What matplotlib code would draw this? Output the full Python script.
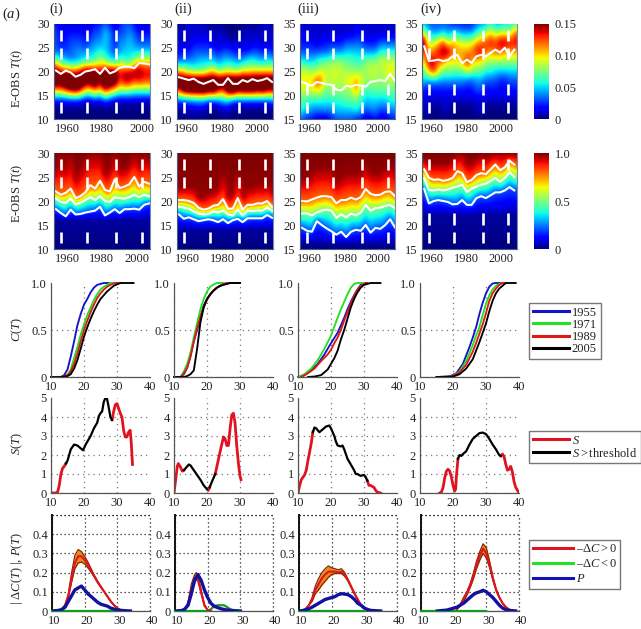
import numpy as np
import matplotlib
matplotlib.use('Agg')
import matplotlib.pyplot as plt
from matplotlib.lines import Line2D
from matplotlib.transforms import ScaledTranslation
from matplotlib.cm import ScalarMappable
from matplotlib.colors import Normalize

plt.rcParams['font.family'] = ['Liberation Serif', 'DejaVu Serif']
plt.rcParams['mathtext.fontset'] = 'custom'
plt.rcParams['mathtext.rm'] = 'Liberation Serif'
plt.rcParams['mathtext.it'] = 'Liberation Serif:italic'
plt.rcParams['font.size'] = 9
plt.rcParams['text.color'] = '#222222'
plt.rcParams['xtick.labelcolor'] = '#222222'
plt.rcParams['ytick.labelcolor'] = '#222222'

W, H = 641, 629
panel_names = ['(i)', '(ii)', '(iii)', '(iv)']
marked_years = [1955, 1971, 1989, 2005]
year_ticks = [1960, 1980, 2000]

# ---- year samples shared by the heat maps and the white lines
line_years = [1952,1955,1958,1961,1964,1967,1970,1973,1976,1979,1982,1985,1988,1991,1994,1997,2000,2003,2006,2009]

# ---- top row: probability density (x 0.01), rows are T, columns are years
pdf_i = [
 [0,0,0,0,0,0,0,0,0,0,0,0,0,0,0,0,0,0,0,0],
 [0,0,0,0,0,0,0,0,0,0,0,0,0,0,0,0,0,0,0,0],
 [2,2,2,2,2,2,1,1,2,1,3,2,1,1,1,1,1,1,1,1],
 [11,11,13,15,16,14,10,10,12,10,14,12,10,8,8,8,7,7,7,7],
 [18,18,19,19,19,19,17,17,19,15,19,18,18,13,15,15,13,14,13,13],
 [16,14,13,13,12,14,16,16,15,14,15,16,16,13,14,14,15,15,14,14],
 [9,6,5,4,4,5,6,6,7,9,8,6,5,8,6,6,8,11,10,10],
 [3,3,3,3,4,4,4,5,5,6,5,4,3,4,5,5,5,5,5,5],
 [3,2,2,3,3,3,2,3,4,4,5,4,2,4,4,5,4,3,3,3],
 [3,2,2,2,2,2,2,2,3,3,5,4,2,3,3,4,3,2,2,2],
 [2,1,1,1,1,1,1,1,2,2,3,2,1,2,3,3,2,1,1,1]]
pdf_ii = [
 [0,0,0,0,0,0,0,0,0,0,0,0,0,0,0,0,0,0,0,0],
 [0,1,1,1,1,1,0,0,0,1,1,0,0,0,0,0,0,0,0,0],
 [3,3,3,4,4,4,3,3,4,5,5,3,3,3,3,3,3,3,3,4],
 [13,17,18,18,18,19,17,18,14,13,18,19,16,17,17,17,16,17,15,15],
 [18,18,18,18,18,18,18,18,18,18,18,18,18,18,18,18,18,18,18,18],
 [11,9,8,7,7,7,9,10,7,8,9,8,8,10,9,10,10,10,10,10],
 [3,4,4,4,5,5,5,5,4,5,5,5,4,5,6,6,5,5,6,5],
 [2,2,2,3,3,3,3,3,2,3,3,2,2,2,2,3,3,2,3,2],
 [1,1,1,2,2,2,2,1,1,1,1,1,1,1,1,1,1,1,1,1],
 [1,1,1,1,1,1,1,1,1,1,0,0,0,1,1,1,1,1,1,1],
 [0,1,1,1,1,1,0,0,0,0,0,0,0,0,0,0,0,1,1,0]]
pdf_iii = [
 [3,2,2,1,1,1,2,3,3,3,3,2,2,1,1,2,1,1,2,2],
 [6,5,4,4,4,4,4,5,5,5,5,6,5,3,4,4,3,3,4,4],
 [7,6,6,6,6,6,6,6,6,7,7,7,6,5,5,5,5,5,6,6],
 [9,9,9,10,9,7,8,8,8,8,8,12,8,6,7,7,7,7,7,7],
 [10,10,10,13,12,8,9,9,8,10,10,11,10,8,8,8,8,8,9,8],
 [9,9,8,8,9,9,9,9,9,8,8,8,8,8,9,9,8,9,10,9],
 [6,5,5,6,7,7,8,8,8,7,7,6,6,8,8,8,9,9,9,9],
 [3,3,3,3,3,3,4,4,4,5,5,5,5,4,4,4,6,6,6,6],
 [2,2,2,1,2,2,2,2,2,3,3,3,3,2,2,2,3,3,3,3],
 [2,1,1,1,1,1,1,1,1,1,1,2,2,1,1,1,1,1,1,1],
 [1,1,1,1,1,1,1,1,1,1,1,1,1,1,1,1,1,1,1,1]]
pdf_iv = [
 [0,0,0,0,0,0,0,0,0,0,0,0,0,0,0,0,0,0,0,0],
 [1,1,0,0,1,1,0,0,0,0,0,1,1,0,0,0,0,0,0,0],
 [1,1,1,1,1,1,1,1,1,1,1,1,1,1,1,1,1,1,1,1],
 [2,2,2,2,2,2,2,2,2,2,2,3,3,2,2,2,2,2,2,2],
 [5,4,4,4,4,4,4,4,4,3,3,4,4,3,3,3,2,2,3,3],
 [7,11,14,10,7,8,7,7,7,9,8,7,7,6,6,5,5,5,5,5],
 [10,15,14,12,12,9,10,10,11,14,11,10,10,8,8,8,8,8,8,8],
 [13,11,12,14,15,16,12,11,11,11,12,14,14,12,11,12,12,11,11,11],
 [16,8,9,10,13,8,11,10,9,9,9,11,12,13,14,13,15,15,14,14],
 [9,5,4,4,5,4,5,5,4,4,4,6,7,8,10,8,9,9,8,12],
 [4,3,3,3,3,3,2,2,2,2,2,3,4,4,6,4,4,5,5,6]]

# ---- white lines and CDF level lines
mean_i = [20.2,19.5,20.2,19.8,18.9,19.3,20,20.2,20.5,19.5,20.8,19.6,20,20.8,21,21,20.7,21.8,21.7,21.5]
mean_ii = [18.8,18.5,18.2,18.5,17.8,17.4,17.8,18.2,17.2,17.2,18.6,17.4,17.4,18.2,17.8,18.4,18,18.2,18.6,17.8]
mean_iii = [22.8,22.4,22.0,22.8,22.6,22.3,22.2,21.2,21.0,22,21.8,22.2,22,21.8,22.8,23,23.2,23,24.5,23]
mean_iv = [30.3,27.2,27.3,27.5,27.2,27.4,28.2,28.5,26.7,27.5,26.8,28.2,28.5,28.2,28.9,29.6,29,30,28.2,29.6]

upper_i = [22,21.3,21.7,22.6,20.6,21,21.8,23.3,22.6,24.2,22.3,22,24.5,22.7,23,23.5,25,23,24,23.6]
mid_i = [20.5,19.8,19.6,20.5,19.3,19.6,20.2,20.8,20.2,21,20,19.8,20.8,20.6,20.5,20.8,21.3,20.8,21.3,21]
lower_i = [18.3,17.5,16.8,18.2,17.2,17.3,17.6,17.8,18,18.8,17,17.6,18.3,17.5,18.3,18.3,18.4,18.2,19.2,19.5]
top_i = [27,30,27,30,25,27,29,30,30,30,26,27,30,27,27,28,30,28,30,29]

upper_ii = [20.2,20.2,20,19.6,18.6,18.2,18.4,19,19.2,20.4,18.4,18.4,20.6,18.2,19.2,19.2,19.5,19.5,20,18.8]
mid_ii = [18.8,18.6,18.4,17.8,17.4,17.2,17.3,17.8,17.6,18,17.2,17,18.2,17,18,17.9,18,18,18.6,18]
lower_ii = [17.2,16.3,16.6,16.2,15.8,16,16.2,16,15.6,16.2,15.4,16,16.3,15.6,16.4,16.4,16.4,16.4,17.1,16.5]
top_ii = [23,23,23,23,21,21,22,22,23,26,21,22,26,21,23,23,24,23,24,22]

upper_iii = [25,24.9,25.3,25.7,26,26,25.8,24.5,25.2,25.2,25.7,25.3,25.8,27.5,26.5,26.2,26.3,26.9,27,26]
mid_iii = [22.4,22.4,22,22.6,23,23.2,23,21.5,22.2,21.6,22.4,22,22.6,24.2,23,23.5,23.6,24,24.2,23.5]
lower_iii = [19.4,18.8,18.6,20.8,20,19.3,18.7,18,18.6,17.5,18.6,19,18.8,20,18.4,19.4,19.2,20,21.2,19.5]
top_iii = [30,30,31,32,32,32,32,29,30,31,31,31,31,33,31,31,31,32,33,32]

upper_iv = [31.6,29.8,29.4,29.5,29.2,29.4,29.8,31.2,30.8,28.9,29.4,30.4,30.8,30.6,31.6,32.6,31.4,32,33.4,32.6]
mid_iv = [29.7,27.3,27.2,27.4,27.2,27.4,27.8,28,28.4,26.9,27.6,28,28.4,28.6,29.2,29.8,29,29.8,31,30]
lower_iv = [27.5,24.5,25,25.2,25,24.8,24.3,24.4,25.2,24.2,24.2,25.6,26,25.6,26.2,26.8,26.8,27.2,27.9,27.2]
top_iv = [34,33,33,33,33,33,34,35,35,33,33,34,35,34,35,35,35,35,35,35]

floor_T = [16, 14, 16, 22]
ranges = [(10, 30), (10, 30), (15, 35), (15, 35)]
cdf_levels = [0, 0.03, 0.2, 0.5, 0.8, 0.985, 1]

# ---- C(T)
cdf = [
 {1955: ([13,14,15,16,17,18,19,20,21,22,23,24,26,27.5],[0,.02,.08,.22,.38,.55,.67,.77,.83,.9,.95,.98,1,1]),
  1971: ([14,15,16,17,18,19,20,21,22,23,24,25,26,27,28,30],[0,.02,.08,.2,.32,.45,.56,.66,.74,.82,.88,.93,.96,.98,1,1]),
  1989: ([13,15,16,17,18,19,20,21,22,23,24,25,26,27,28,29,30,31],[0,.02,.06,.14,.25,.38,.5,.6,.69,.77,.84,.89,.93,.96,.98,.995,1,1]),
  2005: ([10,13,15,16,17,18,19,20,21,22,23,24,25,26,27,28,29,30,31,35],[0,0,.01,.03,.09,.18,.3,.43,.53,.62,.7,.77,.83,.87,.91,.94,.97,.985,1,1])},
 {1955: ([11,12,13,14,15,16,17,18,19,20,21,22,23,24,25,26,27,30],[0,0,.03,.1,.22,.38,.5,.64,.76,.83,.88,.92,.95,.97,.985,.995,1,1]),
  1971: ([12,13,14,15,16,17,18,19,20,21,22,23,25],[0,.06,.14,.26,.42,.57,.72,.83,.91,.96,.985,1,1]),
  1989: ([12,13,14,15,16,17,18,19,20,21,22,23,24,25,26],[0,.04,.1,.22,.38,.52,.64,.74,.82,.88,.92,.95,.97,.99,1]),
  2005: ([10,13,14,15,16,17,18,19,20,21,22,23,24,25,26,27,30],[0,0,.01,.03,.07,.3,.58,.74,.83,.88,.92,.95,.97,.98,.99,1,1])},
 {1955: ([10,12,14,16,18,20,22,23,24,25,26,27,28,29,30,31],[0,.02,.07,.14,.24,.36,.47,.55,.63,.72,.8,.87,.93,.98,1,1]),
  1971: ([10,12,14,16,18,20,22,23,24,25,26,27,28,30],[0,.03,.09,.18,.3,.44,.63,.72,.8,.88,.95,.99,1,1]),
  1989: ([11,13,15,17,19,20,21,22,23,24,25,26,27,28,29,30,31],[0,.04,.09,.17,.24,.29,.36,.42,.5,.6,.69,.78,.86,.93,.97,.99,1]),
  2005: ([13,15,17,19,21,22,23,24,25,26,27,28,29,30,32,35],[0,.005,.02,.08,.2,.28,.4,.5,.62,.74,.83,.9,.95,.98,1,1])},
 {1955: ([15,19,21,23,25,26,27,28,29,30,31,32,33,35],[0,.005,.04,.14,.32,.42,.53,.67,.79,.89,.96,.995,1,1]),
  1971: ([17,20,22,24,26,27,28,29,30,31,32,33,34,35],[0,.01,.06,.17,.34,.44,.53,.66,.78,.87,.93,.97,.99,1]),
  1989: ([18,20,22,24,26,27,28,29,30,31,32,33,34,35,36],[0,.01,.05,.13,.27,.36,.46,.56,.68,.81,.89,.94,.98,1,1]),
  2005: ([15,20,22,24,26,27,28,29,30,31,32,33,34,35,36,39],[0,.005,.03,.09,.19,.28,.37,.47,.57,.7,.81,.89,.94,.97,1,1])},
]
cdf_colors = {1955: '#1414c8', 1971: '#22e022', 1989: '#e01818', 2005: '#000000'}

# ---- S(T)
s_T = [
 [10,11.5,12,12.5,13,13.5,14,14.5,15,15.5,16,17,18,19,19.7,20.5,21,22,23,24,24.5,25,25.5,26,26.5,27,27.5,28,28.5,29,29.5,30,30.5,31,31.5,32,32.5,33,33.5,34,34.3,34.7],
 [10,10.5,11,11.3,12,12.5,13,14,14.5,15,16,17,18,19,20,20.4,20.8,21.5,22,22.5,23,24,25,25.5,26,26.5,27,27.5,28,28.5,29,29.5,30,30.3],
 [10,10.5,11,12,12.5,13,14,14.5,15,15.5,16,16.5,17.5,18.5,19.5,20,21,21.5,22,23,23.5,24,25,26,27,27.5,28,29,30,30.5,31,31.5,32,33,33.5,34,35],
 [16,16.5,17,17.5,18,18.5,19,19.5,20,20.5,20.8,21,21.5,22,22.5,23,24,25,26,27,28,29,30,31,32,33,34,34.5,35,35.5,36,36.5,37,37.5,38,38.5,39,40],
]
s_V = [
 [0,0,.05,.4,1,1.3,1.4,1.55,1.7,2,2.3,2.55,2.5,2.35,2.25,2.55,2.7,3,3.4,3.7,4.05,4.2,4.3,4.8,5,4.95,4.5,4,3.85,4.3,4.65,4.7,4.45,4.2,4,3.3,2.95,2.95,3.2,3.3,2.7,1.5],
 [0,.7,1.4,1.55,1.35,1.15,1.2,1.4,1.5,1.45,1.2,.95,.7,.4,.2,.15,.3,.6,.8,1,1.4,2.2,2.95,2.85,2.5,2.5,3.4,4.1,4.2,3.7,2.5,1.6,.9,.7],
 [0,.4,.7,.95,1.2,1.7,2.6,3.2,3.45,3.4,3.3,3.2,3.35,3.5,3.55,3.4,3,2.7,2.5,2.45,2.5,2.3,1.8,1.5,1.2,1,1,.9,.95,.85,.65,.4,.4,.3,.15,.05,0],
 [0,.05,.3,.8,1.15,1.25,1.15,.85,.4,.1,.2,.8,1.8,2,1.95,2.05,2.2,2.55,2.85,3,3.15,3.18,3.1,2.85,2.55,2.3,2,1.95,2.05,1.9,1.5,1.2,1.25,1.4,1.1,.6,.3,0],
]
s_above = [[(14.5, 28.5)], [(13, 20.2), (20.8, 22.5)], [(14.5, 31)], [(21.5, 34.5)]]

# ---- |dC(T)| and P(T)
d_T = [
 [11,12,13,14,15,16,17,18,19,20,21,22,23,24,25,26,27,28,29,30,31,32],
 [12,13,14,15,16,16.5,17,18,19,20,21],
 [10,11,12,13,14,15,16,17,18,19,20,21,22,23,24,25,26,27,28,29,30,31,32],
 [21,22,23,24,25,26,27,28,29,30,31,32,33,34,35,36,37,38,39],
]
d_mid = [
 [0,.002,.01,.03,.08,.17,.25,.285,.285,.265,.24,.21,.18,.15,.125,.1,.075,.05,.03,.015,.005,0],
 [0,.01,.04,.11,.17,.18,.17,.1,.03,.005,0],
 [0,.002,.01,.03,.06,.11,.14,.17,.19,.205,.205,.205,.2,.205,.19,.16,.125,.09,.06,.03,.015,.005,0],
 [.01,.03,.06,.09,.13,.18,.24,.29,.325,.3,.24,.17,.11,.07,.04,.02,.008,.002,0],
]
d_up = [
 [0,.002,.01,.03,.09,.2,.29,.32,.31,.285,.255,.22,.185,.155,.128,.102,.077,.052,.031,.015,.005,0],
 [0,.01,.045,.14,.19,.2,.18,.11,.035,.005,0],
 [0,.002,.01,.03,.07,.13,.17,.2,.22,.235,.225,.22,.215,.22,.2,.165,.13,.093,.062,.031,.015,.005,0],
 [.01,.035,.07,.1,.14,.195,.26,.31,.35,.33,.26,.18,.115,.073,.042,.021,.008,.002,0],
]
d_lo = [
 [0,.002,.01,.03,.07,.15,.22,.25,.255,.245,.225,.2,.175,.145,.122,.098,.073,.048,.029,.015,.005,0],
 [0,.01,.035,.09,.15,.165,.155,.09,.025,.005,0],
 [0,.002,.01,.03,.05,.09,.11,.135,.155,.175,.19,.195,.195,.195,.18,.155,.12,.087,.058,.029,.015,.005,0],
 [.01,.025,.05,.08,.12,.165,.22,.265,.3,.275,.225,.16,.105,.067,.038,.019,.008,.002,0],
]
p_T = [
 [10,12,13,14,15,16,17,18,19,20,21,22,23,24,25,26,27,28,29,30,32,34],
 [10,12,13,14,15,16,17,18,19,20,21,22,23,24,25,26,28,30],
 [10,11,12,13,14,15,16,17,18,19,20,21,22,23,24,25,26,27,28,29,30,31,32,35],
 [15,18,20,21,22,23,24,25,26,27,28,29,30,31,32,33,34,35,36,37,39],
]
p_V = [
 [0,.003,.008,.02,.05,.08,.11,.12,.13,.11,.09,.075,.06,.045,.035,.03,.025,.015,.01,.005,.002,0],
 [0,.002,.01,.03,.09,.16,.19,.16,.11,.07,.04,.025,.018,.012,.008,.005,.002,0],
 [0,.002,.006,.012,.02,.03,.04,.05,.06,.065,.07,.075,.085,.09,.088,.085,.075,.06,.04,.03,.015,.008,.003,0],
 [0,.005,.015,.02,.03,.04,.055,.07,.085,.095,.1,.108,.1,.085,.07,.05,.03,.015,.007,.003,0],
]
neg_T = [10,20,21,22,23,24,25,26,27,28,29,30]
neg_V_ii = [0,0,.01,.025,.03,.03,.03,.02,.008,.003,0,0]

# ---- pixel layout (left, right)
heat_x = [(54, 150), (177, 273), (300, 395), (422, 517)]
heat_lim = [(1950.8, 2009.6), (1950.8, 2009.6), (1950.7, 2009.0), (1950.6, 2010.7)]
line_x = [(51, 150), (174, 273), (298, 397), (420, 519)]


def add_ax(l, t, r, b):
    return fig.add_axes([l / W, 1 - b / H, (r - l) / W, (b - t) / H])


def nudge(label, px):
    label.set_transform(label.get_transform() + ScaledTranslation(px / 100, 0, fig.dpi_scale_trans))


fig = plt.figure(figsize=(W / 100, H / 100), dpi=100)

dash_tops = [0.06, 0.25, 0.44, 0.63, 0.82]
dash_len = 0.115
dashes_r1 = [[0, 1, 4], [0, 1, 4], [0, 1, 3, 4], [0, 1, 3, 4]]
dashes_r2 = [[0, 1, 4], [0, 1, 4], [0, 1, 4], [0, 3, 4]]
year_nudge_r1 = [[-2, 0, 8], [-6, -2, 0], [-6, -2, -2], [-5, -2, 1]]
year_nudge_r2 = [[-2, 0, 3], [-5, -2, 0], [-6, -2, -2], [-5, -2, 1]]


def style_heat(ax, k, nudges, lo, hi):
    ax.set_xlim(*heat_lim[k])
    ax.set_ylim(lo, hi)
    ax.set_xticks(year_ticks)
    ax.set_yticks(np.arange(lo, hi + 1, 5))
    ax.tick_params(length=0, pad=3)
    for s in ax.spines.values():
        s.set_color('#4a5a80')
        s.set_linewidth(0.8)
    ax.spines['top'].set_visible(False)
    ax.spines['right'].set_color('#7a8aa8')
    for lab, n in zip(ax.get_xticklabels(), nudges):
        nudge(lab, n)


def draw_dashes(ax, shown):
    for y in marked_years:
        for d in shown:
            ax.plot([y, y], [1 - dash_tops[d], 1 - dash_tops[d] - dash_len], color='white', lw=1.9,
                    transform=ax.get_xaxis_transform(), solid_capstyle='butt')


pdfs = [pdf_i, pdf_ii, pdf_iii, pdf_iv]
means = [mean_i, mean_ii, mean_iii, mean_iv]
uppers = [upper_i, upper_ii, upper_iii, upper_iv]
mids = [mid_i, mid_ii, mid_iii, mid_iv]
lowers = [lower_i, lower_ii, lower_iii, lower_iv]
tops = [top_i, top_ii, top_iii, top_iv]

for k in range(4):
    l, r = heat_x[k]
    lo, hi = ranges[k]
    # density row
    ax = add_ax(l, 24, r, 119)
    grid = np.array(pdfs[k]) / 100
    ax.imshow(grid, origin='lower', aspect='auto', cmap='jet', vmin=0, vmax=0.15,
              extent=[line_years[0] - 1.5, line_years[-1] + 1.5, lo - 1, hi + 1],
              interpolation='bicubic', interpolation_stage='data')
    ax.plot(line_years, means[k], color='white', lw=1.5)
    draw_dashes(ax, dashes_r1[k])
    style_heat(ax, k, year_nudge_r1[k], lo, hi)

    # cumulative row
    ax = add_ax(l, 153, r, 249)
    Tgrid = np.linspace(lo, hi, 161)
    columns = []
    for j in range(len(line_years)):
        nodes = [lo, floor_T[k], lowers[k][j], mids[k][j], uppers[k][j], tops[k][j], hi + 0.01]
        columns.append(np.interp(Tgrid, nodes, cdf_levels))
    ax.imshow(np.array(columns).T, origin='lower', aspect='auto', cmap='jet', vmin=0, vmax=1,
              extent=[line_years[0] - 1.5, line_years[-1] + 1.5, lo, hi],
              interpolation='bicubic', interpolation_stage='data')
    for series in (uppers[k], mids[k], lowers[k]):
        ax.plot(line_years, series, color='white', lw=1.5)
    draw_dashes(ax, dashes_r2[k])
    style_heat(ax, k, year_nudge_r2[k], lo, hi)


def style_lines(ax, ylim, yticks, yfmt, strong=False, xnudge=0):
    ax.set_xlim(10, 40)
    ax.set_ylim(*ylim)
    ax.set_xticks([10, 20, 30, 40])
    ax.set_yticks(yticks)
    ax.set_yticklabels(yfmt)
    ax.tick_params(length=0, pad=3)
    dotted = (0, (1, 3.2)) if not strong else (0, (1, 2.2))
    col = '#777777' if not strong else '#222222'
    ax.grid(True, color=col, lw=0.9, linestyle=dotted)
    ax.set_axisbelow(True)
    if not strong:
        ax.get_ygridlines()[-1].set_visible(False)
        ax.get_xgridlines()[-1].set_visible(False)
    ax.spines['top'].set_visible(False)
    ax.spines['right'].set_visible(False)
    for n in ('left', 'bottom'):
        ax.spines[n].set_color('#555555')
        ax.spines[n].set_linewidth(0.9)
    if strong:
        ax.spines['left'].set_color('#111111')
        ax.spines['left'].set_linewidth(1.4)
    for lab in ax.get_xticklabels():
        nudge(lab, xnudge)


RED = '#e01420'
for k in range(4):
    l, r = line_x[k]
    # C(T)
    ax = add_ax(l, 283, r, 377)
    for y in marked_years:
        T, C = cdf[k][y]
        ax.plot(T, C, color=cdf_colors[y], lw=1.35, clip_on=False)
    style_lines(ax, (0, 1), [0, 0.5, 1], ['0', '0.5', '1.0'])

    # S(T): red where below the threshold, black above it
    ax = add_ax(l, 398, r, 493)
    T = np.array(s_T[k], dtype=float)
    V = np.array(s_V[k], dtype=float)
    inside = np.zeros(len(T), dtype=bool)
    for a, b in s_above[k]:
        m = (T >= a) & (T <= b)
        ax.plot(T[m], V[m], color='black', lw=1.6, zorder=3)
        inside |= (T > a) & (T < b)
    ax.plot(T, np.where(inside, np.nan, V), color=RED, lw=2.0, zorder=2)
    style_lines(ax, (0, 5), [0, 1, 2, 3, 4, 5], ['0', '1', '2', '3', '4', '5'])

    # |dC| and P
    ax = add_ax(l + 1, 515, r, 611)
    ax.fill_between(d_T[k], d_lo[k], d_up[k], color='#f08a14', lw=0, zorder=2)
    ax.plot(d_T[k], d_up[k], color='#7a2a06', lw=0.9, zorder=3)
    ax.plot(d_T[k], d_lo[k], color='#7a2a06', lw=0.9, zorder=3)
    ax.plot(d_T[k], d_mid[k], color=RED, lw=1.5, zorder=4)
    neg = neg_V_ii if k == 1 else [0] * len(neg_T)
    ax.plot(neg_T, neg, color='#159a25', lw=1.6, zorder=3, clip_on=False)
    ax.plot(p_T[k], p_V[k], color='#12129e', lw=2.4, zorder=5)
    style_lines(ax, (0, 0.5), [0, .1, .2, .3, .4, .5], ['0', '0.1', '0.2', '0.3', '0.4', ''], strong=True, xnudge=2)
    ax.axvline(40, color='#222222', lw=0.9, linestyle=(0, (1, 2.2)), clip_on=False)
    ax.axhline(0.5, color='#222222', lw=0.9, linestyle=(0, (1, 2.2)), clip_on=False)


def colorbar(t, b, vmax, ticks, labels):
    cax = add_ax(534, t, 549, b)
    cb = fig.colorbar(ScalarMappable(Normalize(0, vmax), 'jet'), cax=cax, ticks=ticks)
    cb.ax.set_yticklabels(labels)
    cb.ax.tick_params(length=0, pad=4, labelsize=9)
    cb.outline.set_visible(False)


colorbar(24, 119, 0.15, [0, 0.05, 0.10, 0.15], ['0', '0.05', '0.10', '0.15'])
colorbar(153, 249, 1.0, [0, 0.5, 1.0], ['0', '0.5', '1.0'])

# legends
leg_kw = dict(loc='upper left', frameon=True, fancybox=False, edgecolor='#777777', framealpha=1,
              borderaxespad=0, handlelength=2.9, handletextpad=0.25, labelspacing=0.02, borderpad=0.28,
              fontsize=9)
L1 = [Line2D([], [], color=cdf_colors[y], lw=2.2) for y in marked_years]
fig.legend(L1, [str(y) for y in marked_years], bbox_to_anchor=(529 / W, 1 - 303 / H), **leg_kw)
L2 = [Line2D([], [], color=RED, lw=2.2), Line2D([], [], color='black', lw=2.2)]
fig.legend(L2, ['$\\mathit{S}$', '$\\mathit{S}>$threshold'], bbox_to_anchor=(529 / W, 1 - 431 / H), **leg_kw)
L3 = [Line2D([], [], color=RED, lw=2.2), Line2D([], [], color='#22e022', lw=2.2), Line2D([], [], color='#1414b4', lw=2.2)]
fig.legend(L3, ['\u2013$\\Delta\\mathit{C}>0$', '\u2013$\\Delta\\mathit{C}<0$', '$\\mathit{P}$'],
           bbox_to_anchor=(529 / W, 1 - 540 / H), **{**leg_kw, 'labelspacing': 0.22, 'handlelength': 3.2})

# labels
for name, x in zip(panel_names, [49, 174, 297, 420]):
    fig.text(x / W, 1 - 9 / H, name, fontsize=10.5, va='center', ha='left')
fig.text(2 / W, 1 - 14 / H, '($\\mathit{a}$)', fontsize=10.5, va='center', ha='left')
for text, y in [('E-OBS $\\mathit{T}(\\mathit{t})$', 78), ('E-OBS $\\mathit{T}(\\mathit{t})$', 193),
                ('$\\mathit{C}(\\mathit{T})$', 330), ('$\\mathit{S}(\\mathit{T})$', 444),
                ('| $\\Delta\\mathit{C}(\\mathit{T})$ |, $\\mathit{P}(\\mathit{T})$', 568)]:
    fig.text(17 / W, 1 - y / H, text, rotation=90, va='center', ha='center', fontsize=9)

fig.savefig('out.png', dpi=100)
